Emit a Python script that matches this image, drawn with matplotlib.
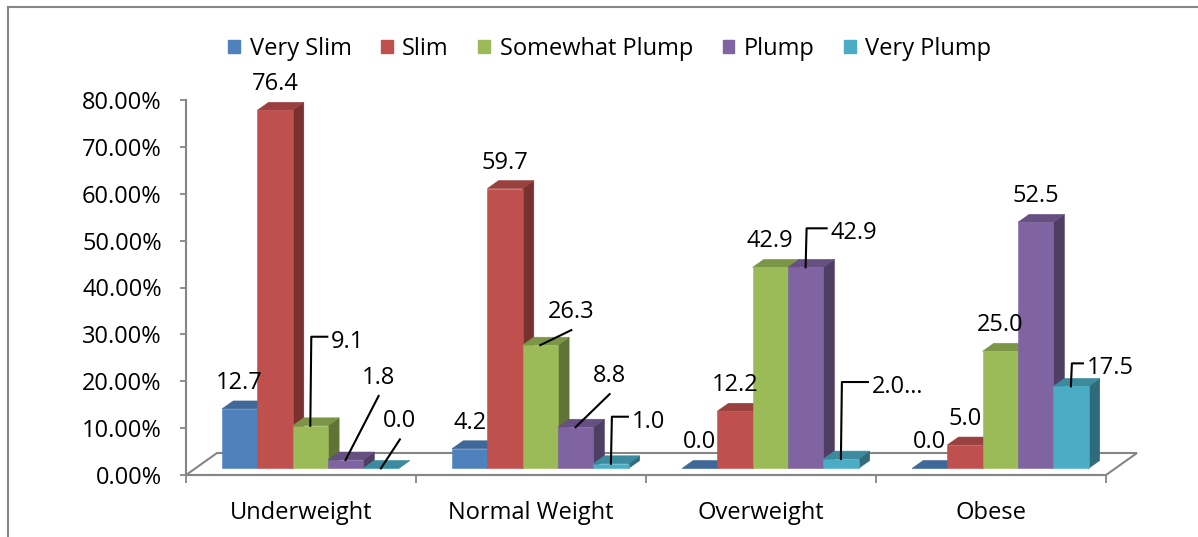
import matplotlib.pyplot as plt
from matplotlib.patches import Polygon, Patch
from matplotlib.lines import Line2D
from matplotlib.colors import to_rgb

plt.rcParams['font.family'] = ['Open Sans', 'DejaVu Sans']

categories = ['Underweight', 'Normal Weight', 'Overweight', 'Obese']
series = ['Very Slim', 'Slim', 'Somewhat Plump', 'Plump', 'Very Plump']
very_slim = [12.7, 4.2, 0.0, 0.0]
slim = [76.4, 59.7, 12.2, 5.0]
somewhat_plump = [9.1, 26.3, 42.9, 25.0]
plump = [1.8, 8.8, 42.9, 52.5]
very_plump = [0.0, 1.0, 2.0, 17.5]
values = [very_slim, slim, somewhat_plump, plump, very_plump]
y_ticks = [0, 10, 20, 30, 40, 50, 60, 70, 80]

colors = ['#4F81BD', '#C0504D', '#9BBB59', '#8064A2', '#4BACC6']

# labels that were dragged away from their bar: (series, category) -> (dx, dy, leader) in pixels
moved_labels = {
    (2, 0): (21, 84, 'elbow'),
    (3, 0): (33, 82, 'line'),
    (4, 0): (19, 47, 'line'),
    (2, 1): (31, 33, 'line'),
    (3, 1): (34, 51, 'line'),
    (4, 1): (21, 42, 'elbow'),
    (3, 2): (25, 34, 'elbow'),
    (4, 2): (31, 72, 'elbow'),
    (4, 3): (16, 18, 'elbow'),
}
label_text = {(4, 2): '2.0\u2026'}

W, H = 1198, 537
FS = 17
GRAY = '#868686'

fig = plt.figure(figsize=(W / 100, H / 100), dpi=100)
ax = fig.add_axes([186 / W, (H - 475) / H, 920 / W, 375 / H])
ax.set_xlim(0, len(categories))
ax.set_ylim(0, 80)

# pixel -> data units
ux = len(categories) / 920
uy = 80 / 375

# floor depth and the slab the bars occupy inside it
Dx, Dy = 31 * ux, 22 * uy
front, depth = 0.3, 0.36
w = 35.3 * ux
gap = (1 - len(series) * w) / 2


def shade(c, f):
    r, g, b = to_rgb(c)
    return (r * f, g * f, b * f)


floor = Polygon([(0, 0), (4, 0), (4 + Dx, Dy), (Dx, Dy)], closed=True,
                facecolor='white', edgecolor=GRAY, lw=1.5, clip_on=False, zorder=1)
ax.add_patch(floor)

ddx, ddy = depth * Dx, depth * Dy
for i in range(len(categories)):
    for j, s in enumerate(series):
        v = values[j][i]
        c = colors[j]
        x0 = i + gap + j * w + front * Dx
        y0 = front * Dy
        side = [(x0 + w, y0), (x0 + w + ddx, y0 + ddy), (x0 + w + ddx, y0 + v + ddy), (x0 + w, y0 + v)]
        top = [(x0, y0 + v), (x0 + w, y0 + v), (x0 + w + ddx, y0 + v + ddy), (x0 + ddx, y0 + v + ddy)]
        face = [(x0, y0), (x0 + w, y0), (x0 + w, y0 + v), (x0, y0 + v)]
        for pts, col in [(side, shade(c, 0.62)), (top, shade(c, 0.8)), (face, to_rgb(c))]:
            ax.add_patch(Polygon(pts, closed=True, facecolor=col, edgecolor=col,
                                 lw=0.4, clip_on=False, zorder=3))

        # value label
        bx, by = x0 + w / 2, y0 + v
        txt = label_text.get((j, i), f'{v:.1f}')
        if (j, i) in moved_labels:
            dx, dy, kind = moved_labels[(j, i)]
            if kind == 'elbow':
                ex, ey = dx - 4, dy + 5
                ax.plot([bx, bx + 1 * ux, bx + ex * ux], [by, by + ey * uy, by + ey * uy],
                        color='black', lw=1.5, clip_on=False, zorder=4)
                ax.text(bx + dx * ux, by + dy * uy, txt, ha='left', va='center',
                        fontsize=FS, zorder=5)
            else:
                ax.plot([bx, bx + dx * ux], [by, by + (dy - 18) * uy],
                        color='black', lw=1.5, clip_on=False, zorder=4)
                ax.text(bx + dx * ux, by + dy * uy, txt, ha='center', va='center',
                        fontsize=FS, zorder=5)
        else:
            ax.text(bx, by + 26 * uy, txt, ha='center', va='center', fontsize=FS, zorder=5)

# axes styling
for sp in ['top', 'right']:
    ax.spines[sp].set_visible(False)
for sp in ['left', 'bottom']:
    ax.spines[sp].set_color(GRAY)
    ax.spines[sp].set_linewidth(1.5)

ax.set_yticks(y_ticks)
ax.set_yticklabels([f'{t:.2f}%' for t in y_ticks], fontsize=FS)
ax.tick_params(axis='y', direction='out', length=4.5, width=1.3, color=GRAY, pad=13)

ax.set_xticks(range(len(categories) + 1))
ax.set_xticklabels([])
ax.set_xticks([i + 0.5 for i in range(len(categories))], minor=True)
ax.set_xticklabels(categories, minor=True, fontsize=FS)
ax.tick_params(axis='x', which='major', direction='out', length=6, width=1.3, color=GRAY)
ax.tick_params(axis='x', which='minor', length=0, pad=19)

# legend
handles = [Patch(facecolor=c, edgecolor=c) for c in colors]
fig.legend(handles=handles, labels=series, ncol=5, loc='center',
           bbox_to_anchor=(610 / W, 1 - 49 / H), frameon=False, fontsize=FS,
           handlelength=0.5, handleheight=0.5, handletextpad=0.4, columnspacing=1.25)

# chart border (only top and left edges fall inside the image)
fig.add_artist(Line2D([8 / W, 8 / W], [0, 1 - 7 / H], transform=fig.transFigure, color=GRAY, lw=1.5))
fig.add_artist(Line2D([8 / W, 1], [1 - 7 / H, 1 - 7 / H], transform=fig.transFigure, color=GRAY, lw=1.5))

fig.savefig('out.png', dpi=100, facecolor='white')
